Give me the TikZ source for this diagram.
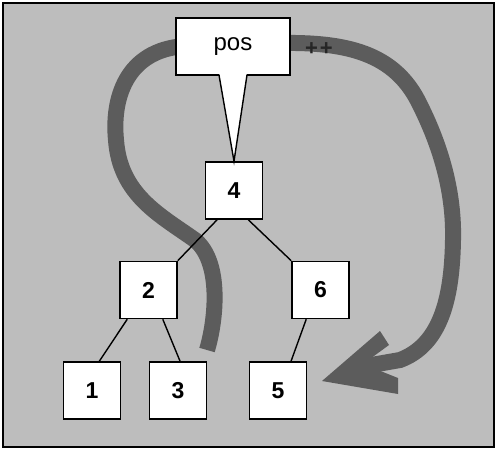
\documentclass[tikz,border=0pt]{standalone}
\usepackage{fontspec}
\setmainfont{Liberation Sans}
\usepackage{tikz}

\definecolor{bgshade}{gray}{0.74}
\definecolor{bandshade}{gray}{0.36}

\begin{document}
\begin{tikzpicture}[x=1pt, y=-1pt,
    keybox/.style={draw=black, line width=1.6pt, fill=white, minimum width=57pt, minimum height=57pt, inner sep=0pt, font=\fontsize{23}{23}\selectfont\bfseries},
    posbox/.style={draw=black, line width=1.6pt, fill=white, minimum width=114pt, minimum height=57pt, inner sep=0pt, font=\fontsize{24}{24}\selectfont},
    band/.style={draw=bandshade, line width=16pt},
    link/.style={draw=black, line width=1.4pt}]

   \useasboundingbox (0,0) rectangle (498,452);
   \draw[fill=bgshade, line width=2pt] (3,3) rectangle (494,447);

   % the two sweeps behind the boxes
   \draw[band] (185,46) .. controls (125,50) and (112,100) .. (116,140)
               .. controls (120,195) and (160,215) .. (195,240)
               .. controls (222,262) and (216,320) .. (207,350);
   \draw[band] (280,43) .. controls (345,42) and (395,52) .. (420,105)
               .. controls (445,155) and (454,200) .. (453,240)
               .. controls (452,300) and (440,345) .. (400,360)
               -- (360,367);
   \fill[bandshade] (322,381) -- (380,331) -- (389,345) -- (363,364) -- (398,378) -- (398,394) -- cycle;
   \node[text=black!85, font=\fontsize{22}{22}\selectfont\bfseries] (inc) at (319,49) {+\hspace{2pt}+};

   \node[keybox] (n4) at (234,190.5) {4};
   \node[keybox] (n2) at (148.5,290) {2};
   \node[keybox] (n6) at (320.5,290) {6};
   \node[keybox] (n1) at (92,390.5) {1};
   \node[keybox] (n3) at (178,390.5) {3};
   \node[keybox] (n5) at (278,390.5) {5};
   \node[posbox] (pos) at (233,46.5) {pos};

   % pointer tail
   \coordinate (tl) at (219,75);
   \coordinate (tr) at (247,75);
   \fill[white] (219,72) -- (n4.north) -- (247,72) -- cycle;
   \draw[link] (tl) -- (n4.north) -- (tr);

   \draw[link] (n4.240) -- (n2.north east);
   \draw[link] (n4.-64) -- (n6.north west);
   \draw[link] (n2.234) -- (n1.76);
   \draw[link] (n2.-64) -- (n3.86);
   \draw[link] (n6.244) -- (n5.66);
\end{tikzpicture}
\end{document}
